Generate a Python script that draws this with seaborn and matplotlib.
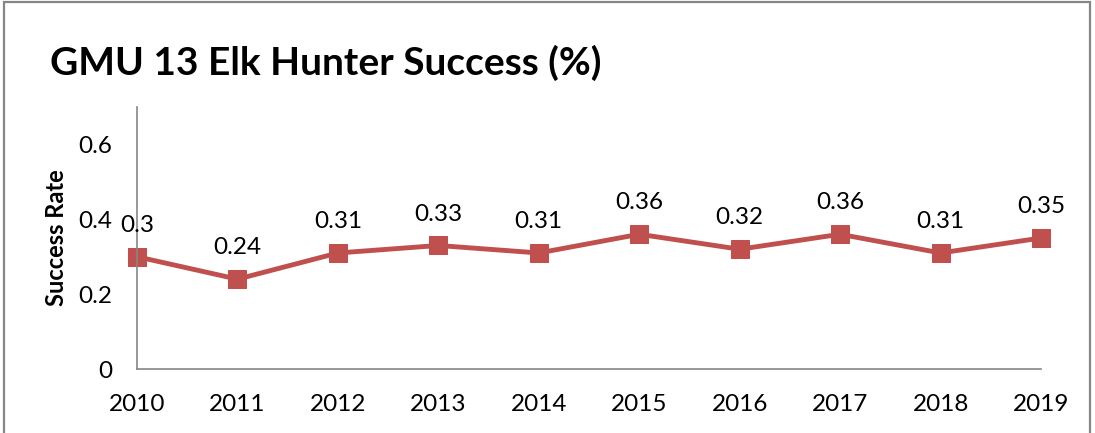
"""GMU 13 elk hunter success rate, 2010-2019."""

import matplotlib.pyplot as plt
import pandas as pd
import seaborn as sns
from matplotlib.patches import Rectangle

sns.set_theme(style="white")
plt.rcParams['font.family'] = ['Lato', 'DejaVu Sans']
plt.rcParams.update({
    'text.color': 'black', 'axes.labelcolor': 'black',
    'xtick.color': 'black', 'ytick.color': 'black',
})

years = [2010, 2011, 2012, 2013, 2014, 2015, 2016, 2017, 2018, 2019]
success = [0.3, 0.24, 0.31, 0.33, 0.31, 0.36, 0.32, 0.36, 0.31, 0.35]
y_ticks = [0, 0.2, 0.4, 0.6]
y_tick_labels = ["0", "0.2", "0.4", "0.6"]

df = pd.DataFrame({"Year": years, "Success Rate": success})

red = "#C0504D"
grey = "#868686"

fig = plt.figure(figsize=(10.95, 4.33), dpi=100)
ax = fig.add_axes([0.1251, 0.1478, 0.8256, 0.6051])

sns.lineplot(
    data=df, x="Year", y="Success Rate", ax=ax,
    color=red, linewidth=3.5, marker="s", markersize=13,
    markeredgecolor=red, clip_on=False,
)

for yr, val in zip(years, success):
    ax.annotate(f"{val:g}", (yr, val), xytext=(0, 15), textcoords="offset points",
                ha="center", va="bottom", fontsize=17.5, color="black")

ax.set_xlim(2010, 2019)
ax.set_ylim(0, 0.7)
ax.set_xticks(years)
ax.set_xticklabels([str(y) for y in years], fontsize=17.5)
ax.set_yticks(y_ticks)
ax.set_yticklabels(y_tick_labels, fontsize=17.5)
ax.tick_params(axis="x", length=0, pad=18)
ax.tick_params(axis="y", length=0, pad=18)
ax.set_xlabel("")
ax.set_ylabel("Success Rate", fontsize=17, fontweight="bold", labelpad=7)

for side in ["top", "right"]:
    ax.spines[side].set_visible(False)
for side in ["left", "bottom"]:
    ax.spines[side].set_color(grey)
    ax.spines[side].set_linewidth(1.2)

fig.text(0.0457, 0.855, "GMU 13 Elk Hunter Success (%)", fontsize=28,
         fontweight="bold", ha="left", va="center")

fig.patches.append(Rectangle((0.004, -0.05), 0.991, 1.045, transform=fig.transFigure,
                             fill=False, edgecolor=grey, linewidth=1.6))

fig.savefig("out.png", dpi=100)
